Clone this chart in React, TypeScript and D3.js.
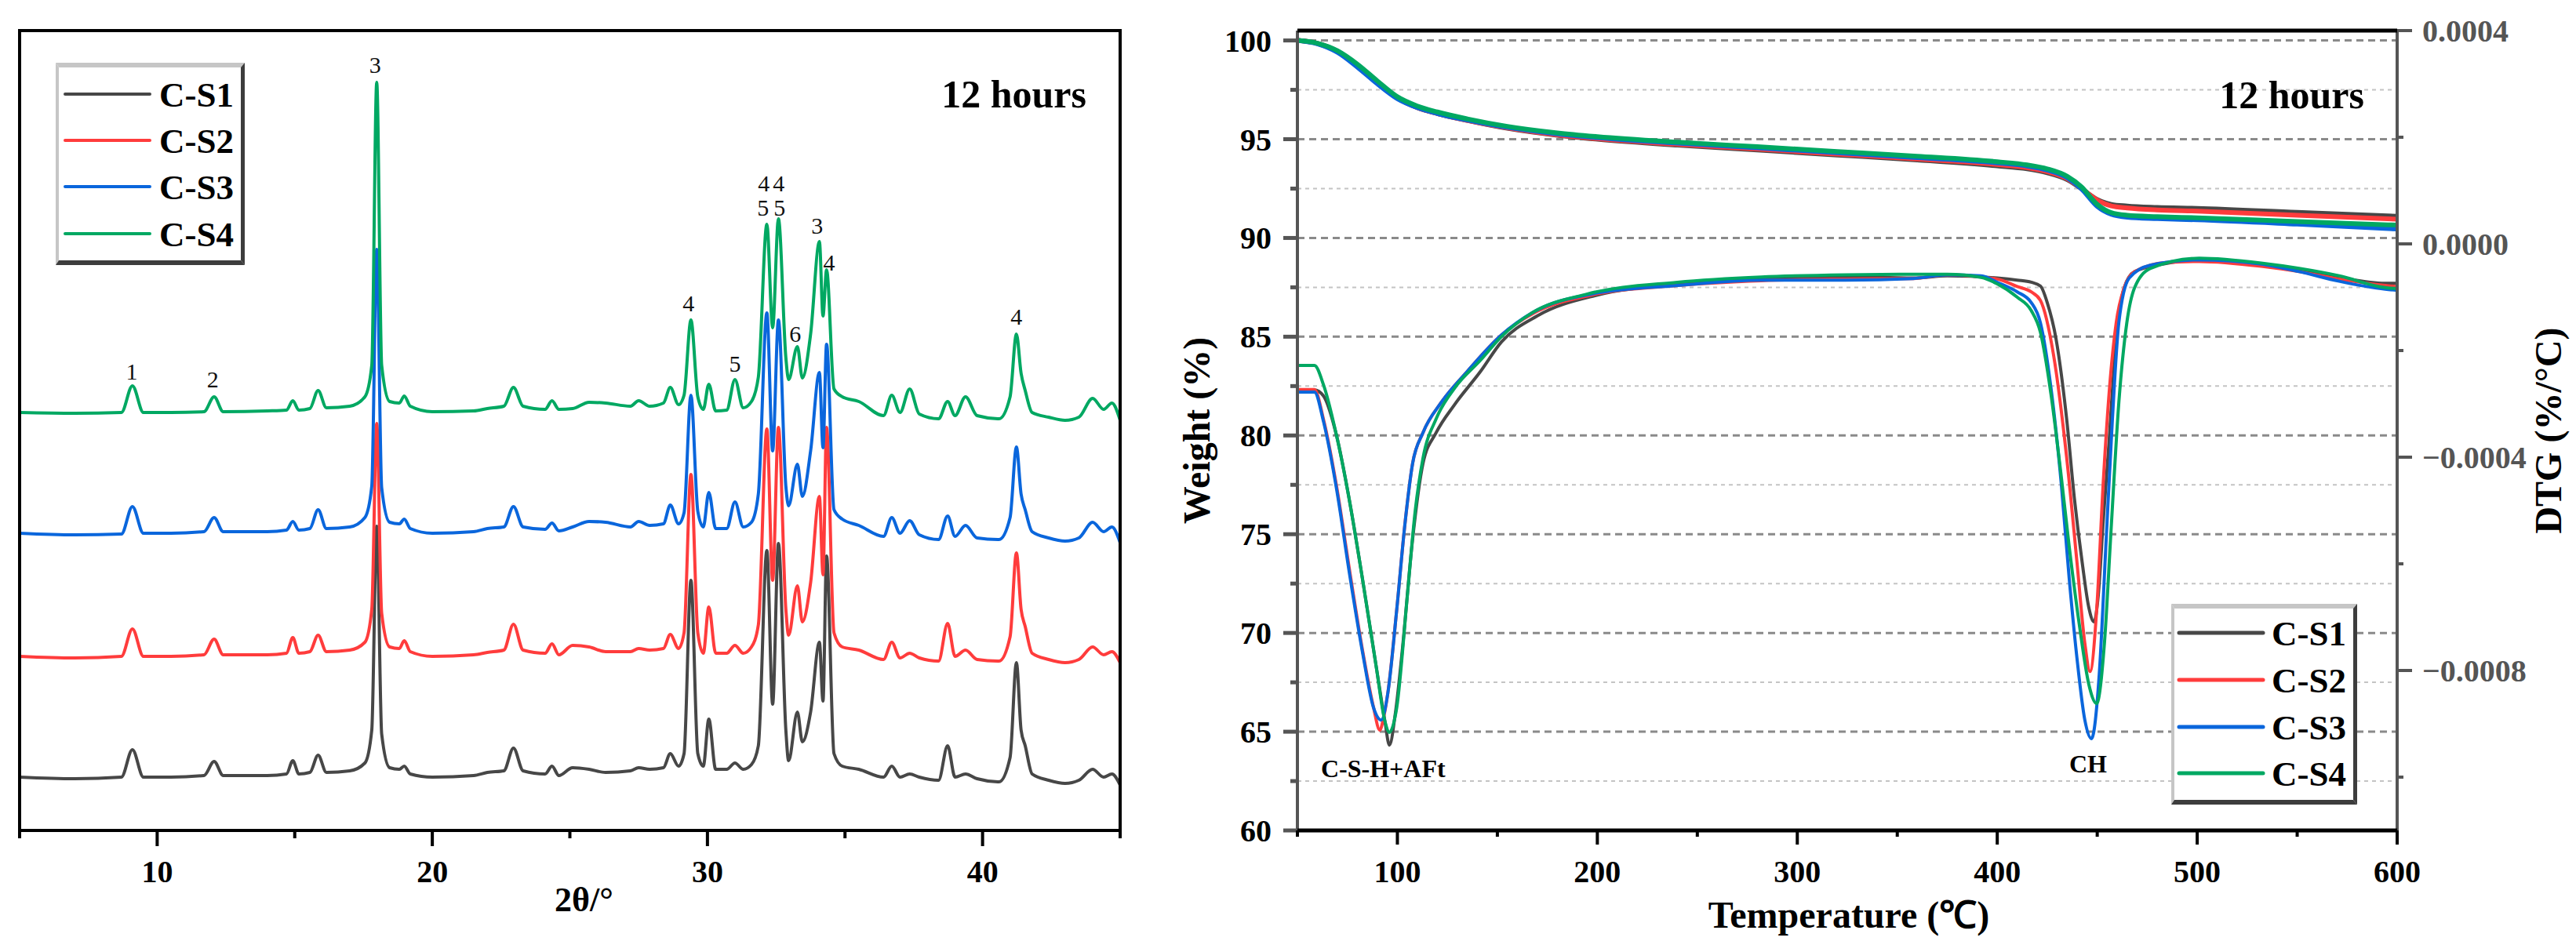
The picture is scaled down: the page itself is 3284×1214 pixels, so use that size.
import * as d3 from "d3";

// ---- data -------------------------------------------------------------
const sampleNames = ["C-S1", "C-S2", "C-S3", "C-S4"];
const sampleColors = ["#474747", "#ff3c3c", "#0a66dc", "#00a862"];

// XRD: 2theta grid shared by all patterns (deg)
const twoTheta = [
  5.0, 7.0, 8.7, 9.1, 9.5, 10.5, 11.7, 12.07, 12.4, 14.0,
  14.7, 14.93, 15.15, 15.55, 15.85, 16.15, 17.0, 17.55, 17.8, 17.98,
  18.16, 18.45, 18.8, 18.98, 19.2, 20.0, 21.5, 22.0, 22.6, 22.95,
  23.3, 24.1, 24.35, 24.6, 25.1, 25.7, 26.3, 27.2, 27.5, 27.9,
  28.4, 28.65, 28.95, 29.15, 29.4, 29.65, 29.85, 30.05, 30.3, 30.7,
  31.0, 31.3, 31.6, 31.85, 32.16, 32.37, 32.58, 32.85, 32.95, 33.27,
  33.45, 33.75, 34.07, 34.2, 34.33, 34.6, 34.9, 35.5, 36.4, 36.7,
  37.0, 37.35, 37.7, 38.4, 38.73, 39.0, 39.38, 39.8, 40.6, 41.0,
  41.23, 41.4, 41.55, 41.8, 42.4, 43.0, 43.5, 44.0, 44.4, 44.7, 45.0,
];
// intensity above each pattern's own baseline (a.u.)
const xrdS1 = [
  0, -2, 0, 35, 0, 0, 2, 20, 2, 2,
  4, 21, 4, 6, 28, 6, 8, 18, 60, 320,
  55, 12, 10, 14, 4, 0, 2, 6, 8, 37,
  8, 4, 14, 2, 12, 10, 6, 8, 12, 10,
  12, 30, 14, 30, 251, 30, 14, 74, 10, 10,
  18, 10, 16, 40, 289, 93, 298, 60, 21, 83,
  45, 83, 172, 97, 282, 30, 14, 10, 0, 14,
  0, 4, 0, -4, 40, 0, 4, -2, -6, 25,
  146, 60, 40, 4, -4, -8, -4, 10, 0, 4, -10,
];
const xrdS2 = [
  0, -2, 0, 35, 0, 0, 2, 22, 2, 2,
  4, 24, 4, 6, 27, 6, 8, 18, 60, 297,
  55, 12, 10, 20, 6, 0, 2, 5, 8, 41,
  8, 4, 16, 2, 14, 12, 6, 6, 10, 8,
  10, 28, 10, 30, 232, 30, 4, 63, 4, 4,
  14, 4, 12, 40, 290, 97, 292, 60, 27, 90,
  44, 94, 204, 104, 292, 30, 12, 8, -4, 18,
  -2, 4, -2, -6, 42, 0, 8, -4, -6, 25,
  132, 60, 38, 4, -4, -8, -4, 12, 2, 6, -8,
];
const xrdS3 = [
  0, -2, -1, 34, 0, 0, 2, 20, 2, 2,
  4, 15, 4, 6, 30, 6, 8, 20, 60, 362,
  58, 14, 12, 18, 6, 0, 2, 6, 8, 34,
  8, 5, 13, 3, 8, 15, 14, 8, 15, 10,
  12, 36, 12, 26, 176, 28, 8, 52, 6, 6,
  40, 8, 14, 50, 281, 105, 272, 60, 35, 88,
  47, 105, 205, 109, 241, 30, 18, 10, -4, 20,
  0, 16, -2, -8, 22, -4, 10, -6, -8, 20,
  110, 50, 30, 2, -6, -10, -6, 14, 2, 8, -12,
];
const xrdS4 = [
  0, -1, 0, 34, 0, 0, 1, 20, 1, 2,
  3, 15, 3, 5, 28, 6, 8, 20, 60, 421,
  60, 14, 12, 21, 8, 1, 2, 5, 8, 32,
  8, 4, 15, 4, 5, 13, 12, 8, 15, 8,
  12, 32, 10, 22, 118, 20, 4, 36, 2, 3,
  42, 6, 14, 45, 240, 108, 247, 70, 42, 84,
  44, 100, 218, 123, 182, 30, 20, 14, -4, 22,
  0, 30, -2, -8, 14, -4, 20, -4, -8, 20,
  100, 50, 28, 0, -6, -10, -6, 18, 4, 12, -10,
];
const xrdOffsets = [68, 222, 379, 533];
const xrdTicks = [10, 20, 30, 40];
const xrdMinorTicks = [5, 15, 25, 35, 45];

// peak labels: [text, 2theta, height]
const peakLabels: [string, number, number][] = [
  ["1", 9.08, 575], ["2", 12.02, 565], ["3", 17.92, 966], ["4", 29.31, 662],
  ["5", 31.0, 585], ["4", 32.05, 815], ["4", 32.59, 815], ["5", 32.02, 784],
  ["5", 32.62, 784], ["6", 33.19, 623], ["3", 33.99, 761], ["4", 34.42, 714],
  ["4", 41.23, 645],
];

// TG (weight %)
const tgTemp = [50, 60, 70, 80, 90, 100, 110, 120, 135, 155, 180, 200, 240, 280, 320, 360, 400, 415, 425, 435, 442, 450, 457, 465, 480, 500, 550, 600];
const tgS1 = [100, 99.85, 99.45, 98.75, 97.9, 97.1, 96.6, 96.3, 95.95, 95.55, 95.2, 95.0, 94.7, 94.45, 94.2, 93.95, 93.65, 93.5, 93.3, 92.95, 92.5, 91.95, 91.7, 91.62, 91.55, 91.5, 91.3, 91.1];
const tgS2 = [100, 99.85, 99.45, 98.75, 97.9, 97.1, 96.6, 96.3, 95.95, 95.57, 95.22, 95.03, 94.74, 94.5, 94.25, 94.0, 93.72, 93.56, 93.36, 93.0, 92.52, 91.92, 91.62, 91.52, 91.42, 91.36, 91.15, 90.95];
const tgS3 = [100, 99.83, 99.4, 98.65, 97.8, 97.05, 96.6, 96.3, 95.97, 95.6, 95.27, 95.08, 94.8, 94.56, 94.32, 94.07, 93.8, 93.64, 93.44, 93.05, 92.5, 91.6, 91.2, 91.05, 90.98, 90.92, 90.7, 90.45];
const tgS4 = [100, 99.86, 99.48, 98.8, 97.95, 97.15, 96.68, 96.38, 96.03, 95.65, 95.32, 95.13, 94.85, 94.62, 94.38, 94.14, 93.86, 93.7, 93.5, 93.12, 92.6, 91.7, 91.28, 91.15, 91.08, 91.02, 90.83, 90.65];

// DTG (%/°C): [temperature, value]
const dtgS1: [number, number][] = [
  [50, -0.000274], [58.5, -0.000274], [63, -0.000285], [69.6, -0.00036], [76.2, -0.000485], [82.7, -0.000632],
  [89.3, -0.00079], [93.8, -0.000896], [96, -0.00094], [99, -0.00088], [102.4, -0.000764], [107.6, -0.000554],
  [112.8, -0.000412], [119.4, -0.000354], [128.5, -0.000302], [141.6, -0.000239], [152, -0.000184], [170, -0.000135],
  [200, -0.000096], [240, -0.000076], [282, -0.000066], [324, -0.000062], [358, -0.000064], [375, -0.00006],
  [400, -0.000064], [410, -0.000068], [417, -0.000072], [421.6, -0.000079], [425, -0.00011], [429.4, -0.000178],
  [434.7, -0.000328], [438.6, -0.000478], [442.5, -0.000598], [445.8, -0.000682], [448.4, -0.000709], [450.5, -0.00066],
  [453, -0.00052], [455.6, -0.000388], [459.5, -0.000178], [463.5, -0.000082], [468.7, -0.000052], [484.4, -0.000037],
  [501, -0.000029], [532, -0.000038], [551, -0.000049], [571, -0.000063], [594, -0.000074], [600, -0.000074],
];
const dtgS2: [number, number][] = [
  [50, -0.000273], [58.5, -0.000273], [63.1, -0.00033], [69.6, -0.000455], [76.2, -0.000615], [82.7, -0.000765],
  [88, -0.000868], [91.2, -0.000912], [93, -0.00089], [95.2, -0.000843], [99.7, -0.000685], [103.7, -0.000528],
  [107.6, -0.000412], [112.8, -0.000354], [122, -0.000297], [135, -0.000239], [152, -0.000171], [168, -0.00013],
  [197, -0.000096], [240, -0.000078], [282, -0.000069], [324, -0.000066], [358, -0.000065], [375, -0.000058],
  [400, -0.000066], [410, -0.00008], [417, -0.00009], [421.6, -0.000106], [428.1, -0.000207], [434.7, -0.0004],
  [439.9, -0.000598], [443.8, -0.000749], [446.4, -0.000802], [449.7, -0.000688], [453, -0.000448], [456.2, -0.000268],
  [459.5, -0.000148], [463.5, -0.000082], [468.7, -0.000052], [484.5, -0.000035], [501, -0.000033], [532, -0.000042],
  [551, -0.000052], [571, -0.000066], [594, -0.000078], [600, -0.00008],
];
const dtgS3: [number, number][] = [
  [50, -0.000278], [58.5, -0.000278], [63.1, -0.000334], [69.6, -0.00046], [76.2, -0.000622], [82.7, -0.000769],
  [88, -0.000869], [91.9, -0.000893], [95.2, -0.000843], [99.7, -0.000685], [103.7, -0.000528], [107.6, -0.000412],
  [112.8, -0.000354], [122, -0.000297], [135, -0.000239], [152, -0.000171], [168, -0.000128], [197, -0.000094],
  [240, -0.000078], [282, -0.000068], [324, -0.000068], [358, -0.000065], [375, -0.000058], [392, -0.00006],
  [400, -0.000072], [410, -0.00009], [417, -0.00011], [421.6, -0.000148], [426.8, -0.000268], [432, -0.000449],
  [436, -0.000628], [439.9, -0.000778], [443.8, -0.000893], [447.1, -0.000928], [451, -0.000808], [454.3, -0.000568],
  [457.6, -0.000328], [460.8, -0.000148], [466, -0.000064], [476.5, -0.00004], [501, -0.00003], [532, -0.000038],
  [551, -0.000052], [571, -0.00007], [594, -0.000085], [600, -0.000087],
];
const dtgS4: [number, number][] = [
  [50, -0.000228], [58.5, -0.000228], [63.1, -0.000265], [69.6, -0.00036], [76.2, -0.000485], [82.7, -0.000632],
  [89.3, -0.00079], [93.8, -0.000896], [96, -0.000916], [99.7, -0.000869], [105, -0.000659], [108.9, -0.000501],
  [112.8, -0.000402], [119.4, -0.000328], [128.5, -0.000271], [141.6, -0.000218], [152, -0.000174], [167, -0.00013],
  [195, -0.000094], [240, -0.000072], [282, -0.000062], [324, -0.000058], [358, -0.000057], [375, -0.000057],
  [392, -0.000063], [400, -0.000075], [410, -0.0001], [417, -0.000125], [421.6, -0.000166], [426.8, -0.00028],
  [432, -0.000436], [436, -0.000568], [441.2, -0.000718], [445.8, -0.000826], [449.7, -0.000862], [453.6, -0.000749],
  [456.9, -0.000538], [460.8, -0.000298], [464.8, -0.000148], [468.7, -0.000082], [476.5, -0.000046], [501, -0.000027],
  [532, -0.000036], [551, -0.000046], [571, -0.00006], [594, -0.000082], [600, -0.000084],
];
const tempTicks = [100, 200, 300, 400, 500, 600];
const tempMinorTicks = [50, 150, 250, 350, 450, 550];
const weightTicks = [60, 65, 70, 75, 80, 85, 90, 95, 100];
const weightMinorTicks = [62.5, 67.5, 72.5, 77.5, 82.5, 87.5, 92.5, 97.5];
const dtgTicks = [0.0004, 0, -0.0004, -0.0008];
const dtgMinorTicks = [0.0002, -0.0002, -0.0006, -0.001];

// ---- layout ------------------------------------------------------------
const FONT = "'Liberation Serif', 'Times New Roman', serif";
const L = { x0: 25, x1: 1428, y0: 39, y1: 1059 };
const R = { x0: 1654, x1: 3056, y0: 39, y1: 1059 };

const xL = d3.scaleLinear().domain([5, 45]).range([L.x0, L.x1]);
const yL = d3.scaleLinear().domain([0, 1020]).range([L.y1, L.y0]);
const xR = d3.scaleLinear().domain([50, 600]).range([R.x0, R.x1]);
const yW = d3.scaleLinear().domain([60, 100.5]).range([R.y1, R.y0]);
const yD = d3.scaleLinear().domain([-0.0011, 0.0004]).range([R.y1, R.y0]);

function Legend({ x0, y0, x1, y1, rows, lx0, lx1, tx, lw }: any) {
  const tT = 6, tL = 4, tR = 5, tB = 6;
  const light = "#c6c6c6", dark = "#3d3d3d";
  return (
    <g>
      <rect x={x0} y={y0} width={x1 - x0} height={y1 - y0} fill="#fff" />
      <polygon points={`${x0},${y0} ${x1},${y0} ${x1 - tR},${y0 + tT} ${x0 + tL},${y0 + tT}`} fill={light} />
      <polygon points={`${x0},${y0} ${x0 + tL},${y0 + tT} ${x0 + tL},${y1 - tB} ${x0},${y1}`} fill={light} />
      <polygon points={`${x1},${y0} ${x1},${y1} ${x1 - tR},${y1 - tB} ${x1 - tR},${y0 + tT}`} fill={dark} />
      <polygon points={`${x0},${y1} ${x1},${y1} ${x1 - tR},${y1 - tB} ${x0 + tL},${y1 - tB}`} fill={dark} />
      {sampleNames.map((n, i) => (
        <g key={n}>
          <line x1={lx0} x2={lx1} y1={rows[i]} y2={rows[i]} stroke={sampleColors[i]} strokeWidth={lw} strokeLinecap="round" />
          <text x={tx} y={rows[i] + 16} fontSize={45} fontWeight="bold" fill="#000">{n}</text>
        </g>
      ))}
    </g>
  );
}

function XrdPanel() {
  const series = [xrdS1, xrdS2, xrdS3, xrdS4];
  return (
    <g>
      {series.map((s, k) => {
        const line = d3
          .line<number>()
          .x((_, i) => xL(twoTheta[i]))
          .y((d) => yL(d + xrdOffsets[k]))
          .curve(d3.curveMonotoneX);
        return <path key={k} d={line(s) || ""} fill="none" stroke={sampleColors[k]} strokeWidth={4} strokeLinejoin="round" />;
      })}
      {peakLabels.map(([t, x, y], i) => (
        <text key={i} x={xL(x)} y={yL(y)} fontSize={30} textAnchor="middle" fill="#111">{t}</text>
      ))}
      <rect x={L.x0} y={L.y0} width={L.x1 - L.x0} height={L.y1 - L.y0} fill="none" stroke="#000" strokeWidth={4} />
      {xrdTicks.map((t) => (
        <g key={t}>
          <line x1={xL(t)} x2={xL(t)} y1={L.y1} y2={L.y1 + 20} stroke="#000" strokeWidth={4} />
          <text x={xL(t)} y={1125} fontSize={40} fontWeight="bold" textAnchor="middle">{t}</text>
        </g>
      ))}
      {xrdMinorTicks.map((t) => (
        <line key={t} x1={xL(t)} x2={xL(t)} y1={L.y1} y2={L.y1 + 10} stroke="#000" strokeWidth={4} />
      ))}
      <text x={(L.x0 + L.x1) / 2 + 18} y={1162} fontSize={44} fontWeight="bold" textAnchor="middle">2θ/°</text>
      <text x={1385} y={137} fontSize={50} fontWeight="bold" textAnchor="end">12 hours</text>
      <Legend x0={71} y0={80} x1={312} y1={338} rows={[120, 179, 238, 298]} lx0={83} lx1={191} tx={203} lw={4} />
    </g>
  );
}

function ThermalPanel() {
  const tg = [tgS1, tgS2, tgS3, tgS4];
  const dtg = [dtgS1, dtgS2, dtgS3, dtgS4];
  const tgLine = d3
    .line<number>()
    .x((_, i) => xR(tgTemp[i]))
    .y((d) => yW(d))
    .curve(d3.curveMonotoneX);
  const dtgLine = d3
    .line<[number, number]>()
    .x((d) => xR(d[0]))
    .y((d) => yD(d[1]))
    .curve(d3.curveMonotoneX);
  const grey = "#555";
  return (
    <g>
      {weightMinorTicks.map((t) => (
        <line key={t} x1={R.x0} x2={R.x1} y1={yW(t)} y2={yW(t)} stroke="#c4c4c4" strokeWidth={2} strokeDasharray="5 5" />
      ))}
      {weightTicks.filter((t) => t > 60).map((t) => (
        <line key={t} x1={R.x0} x2={R.x1} y1={yW(t)} y2={yW(t)} stroke="#8a8a8a" strokeWidth={3} strokeDasharray="9 6" />
      ))}
      {tg.map((s, k) => (
        <path key={"tg" + k} d={tgLine(s) || ""} fill="none" stroke={sampleColors[k]} strokeWidth={6} strokeLinejoin="round" />
      ))}
      {dtg.map((s, k) => (
        <path key={"dtg" + k} d={dtgLine(s) || ""} fill="none" stroke={sampleColors[k]} strokeWidth={4} strokeLinejoin="round" />
      ))}
      {/* left axis */}
      <line x1={R.x0} x2={R.x0} y1={R.y0} y2={R.y1} stroke={grey} strokeWidth={4} />
      {weightTicks.map((t) => (
        <g key={t}>
          <line x1={R.x0 - 18} x2={R.x0} y1={yW(t)} y2={yW(t)} stroke={grey} strokeWidth={5} />
          <text x={1621} y={yW(t) + 14} fontSize={40} fontWeight="bold" textAnchor="end">{t}</text>
        </g>
      ))}
      {weightMinorTicks.map((t) => (
        <line key={t} x1={R.x0 - 9} x2={R.x0} y1={yW(t)} y2={yW(t)} stroke={grey} strokeWidth={5} />
      ))}
      {/* right axis */}
      <line x1={R.x1} x2={R.x1} y1={R.y0} y2={R.y1} stroke={grey} strokeWidth={4} />
      {dtgTicks.map((t) => (
        <g key={t}>
          <line x1={R.x1} x2={R.x1 + 19} y1={yD(t)} y2={yD(t)} stroke={grey} strokeWidth={4} />
          <text x={3088} y={yD(t) + 14} fontSize={40} fontWeight="bold" fill="#555">{d3.format(".4f")(t)}</text>
        </g>
      ))}
      {dtgMinorTicks.map((t) => (
        <line key={t} x1={R.x1} x2={R.x1 + 8} y1={yD(t)} y2={yD(t)} stroke={grey} strokeWidth={4} />
      ))}
      {/* top & bottom */}
      <line x1={R.x0} x2={R.x1} y1={R.y0} y2={R.y0} stroke="#000" strokeWidth={5} />
      <line x1={R.x0} x2={R.x1} y1={R.y1} y2={R.y1} stroke="#000" strokeWidth={5} />
      {tempTicks.map((t) => (
        <g key={t}>
          <line x1={xR(t)} x2={xR(t)} y1={R.y1} y2={R.y1 + 18} stroke="#000" strokeWidth={4} />
          <text x={xR(t)} y={1125} fontSize={40} fontWeight="bold" textAnchor="middle">{t}</text>
        </g>
      ))}
      {tempMinorTicks.map((t) => (
        <line key={t} x1={xR(t)} x2={xR(t)} y1={R.y1} y2={R.y1 + 8} stroke="#000" strokeWidth={4} />
      ))}
      <text x={2357} y={1183} fontSize={48} fontWeight="bold" textAnchor="middle">Temperature (℃)</text>
      <text transform={`translate(1542,${(R.y0 + R.y1) / 2}) rotate(-90)`} fontSize={48} fontWeight="bold" textAnchor="middle">Weight (%)</text>
      <text transform={`translate(3265,${(R.y0 + R.y1) / 2}) rotate(-90)`} fontSize={48} fontWeight="bold" textAnchor="middle">DTG (%/°C)</text>
      <text x={3014} y={138} fontSize={50} fontWeight="bold" textAnchor="end">12 hours</text>
      <text x={1684} y={991} fontSize={32} fontWeight="bold">C-S-H+AFt</text>
      <text x={2662} y={985} fontSize={32} fontWeight="bold" textAnchor="middle">CH</text>
      <Legend x0={2768} y0={770} x1={3005} y1={1026} rows={[807, 867, 927, 986]} lx0={2778} lx1={2885} tx={2896} lw={5} />
    </g>
  );
}

export default function App() {
  return (
    <svg
      width={3284}
      height={1214}
      viewBox="0 0 3284 1214"
      style={{ position: "absolute", left: 0, top: 0, background: "#fff" }}
      fontFamily={FONT}
    >
      <rect width={3284} height={1214} fill="#fff" />
      <XrdPanel />
      <ThermalPanel />
    </svg>
  );
}
